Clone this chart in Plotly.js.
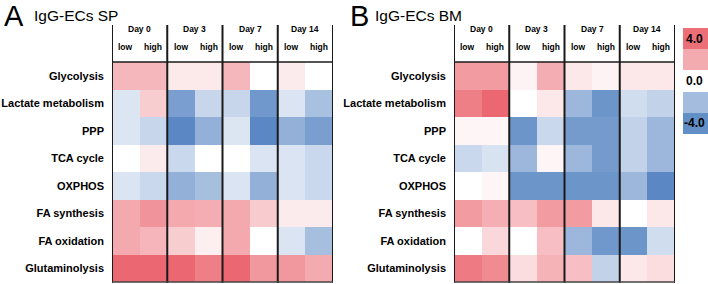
<!DOCTYPE html>
<html>
<head>
<meta charset="utf-8">
<script src="https://cdn.plot.ly/plotly-3.0.1.min.js"></script>
<style>html,body{margin:0;padding:0;background:#fff;}#chart{width:708px;height:284px;}</style>
</head>
<body>
<div id="chart"></div>
<script>
// ---- data ----
var pathways = ["Glycolysis", "Lactate metabolism", "PPP", "TCA cycle", "OXPHOS", "FA synthesis", "FA oxidation", "Glutaminolysis"];
var days = ["Day 0", "Day 3", "Day 7", "Day 14"];
var levels = ["low", "high"];
var panelTitles = ["IgG-ECs SP", "IgG-ECs BM"];
var panelLetters = ["A", "B"];

// columns: D0 low, D0 high, D3 low, D3 high, D7 low, D7 high, D14 low, D14 high
var valuesSP = [
  [1.8, 1.8, 0.55, 0.55, 1.8, 0.0, 0.5, 0.0],
  [-0.8, 1.25, -3.1, -1.3, -1.3, -3.3, -0.85, -2.0],
  [-0.8, -1.3, -3.8, -2.5, -0.8, -3.8, -2.5, -3.1],
  [0.0, 0.5, -1.25, 0.0, 0.0, -0.85, -0.85, -1.25],
  [-0.85, -1.25, -2.5, -2.05, -0.85, -2.5, -0.85, -1.25],
  [2.15, 2.7, 2.15, 2.05, 2.15, 1.3, 0.5, 0.5],
  [2.15, 1.85, 1.25, 0.4, 2.15, 0.0, -0.85, -2.05],
  [3.8, 3.8, 3.8, 3.2, 3.8, 2.6, 2.6, 2.1]
];
var valuesBM = [
  [2.5, 2.5, 0.3, 2.05, 0.6, 0.3, 0.6, 0.6],
  [3.2, 3.8, 0.0, 0.6, -2.3, -3.4, -1.1, -1.4],
  [0.25, 0.25, -3.4, -1.25, -3.2, -3.2, -1.4, -2.3],
  [-1.25, -0.9, -2.3, 0.25, -2.3, -3.2, -1.4, -2.3],
  [0.0, 0.25, -3.4, -3.4, -3.4, -3.4, -2.3, -3.8],
  [2.5, 2.0, 1.6, 2.5, 2.5, 0.6, 0.0, 0.6],
  [0.0, 1.0, 0.0, 1.6, -2.3, -3.3, -3.4, -1.1],
  [3.3, 2.9, 0.85, 1.9, 1.6, -1.4, 0.6, 0.85]
];
var legendValues = [3.6, 2.1, 0.0, -2.1, -3.6];
var legendLabels = ["4.0", "", "0.0", "", "-4.0"];

// ---- styling ----
var W = 708, H = 284;
var colorscale = [[0, "#5282C1"], [0.5, "#FFFFFF"], [1, "#EA5F69"]];
var FONT = "Liberation Sans, Arial, Helvetica, sans-serif";
function px(x) { return x / W; }
function py(y) { return (H - y) / H; }

var nCols = days.length * levels.length;
var colIdx = [];
for (var i = 0; i < nCols; i++) colIdx.push(i);

var panels = [
  {z: valuesSP, xa: "x", ya: "y", left: 112, right: 333, letterX: 2, titleX: 32},
  {z: valuesBM, xa: "x2", ya: "y2", left: 454, right: 675, letterX: 348, titleX: 373}
];
var hmTop = 62, hmBottom = 282, headTop = 25;

var traces = [], shapes = [], annotations = [];
var layout = {
  width: W, height: H,
  margin: {l: 0, r: 0, t: 0, b: 0},
  paper_bgcolor: "#fff", plot_bgcolor: "#fff",
  font: {family: FONT, color: "#000"},
  showlegend: false
};

panels.forEach(function (p, k) {
  var sfx = k === 0 ? "" : "2";
  traces.push({
    type: "heatmap", z: p.z, x: colIdx, y: pathways,
    xaxis: p.xa, yaxis: p.ya,
    colorscale: colorscale, zmin: -4, zmax: 4, showscale: false,
    xgap: 0, ygap: 0, hoverinfo: "skip"
  });
  layout["xaxis" + sfx] = {
    domain: [px(p.left), px(p.right)], range: [-0.5, nCols - 0.5],
    anchor: p.ya, showticklabels: false, showgrid: false, zeroline: false,
    ticks: "", showline: false, fixedrange: true
  };
  layout["yaxis" + sfx] = {
    domain: [py(hmBottom), py(hmTop)], anchor: p.xa,
    autorange: "reversed", type: "category",
    showgrid: false, zeroline: false, showline: false, ticks: "",
    ticklabelstandoff: 7,
    tickfont: {family: FONT, size: 11, weight: "bold", color: "#000"},
    fixedrange: true
  };
  // vertical lines: panel edges and day separators
  for (var d = 0; d <= days.length; d++) {
    var xv = d * levels.length - 0.5;
    shapes.push({type: "line", xref: p.xa, yref: "paper",
      x0: xv, x1: xv, y0: py(hmBottom + 1), y1: py(headTop),
      line: {color: "#1a1a1a", width: 2}});
  }
  // header bottom line and bottom border
  shapes.push({type: "line", xref: p.xa, yref: "paper",
    x0: -0.5, x1: nCols - 0.5, y0: py(hmTop), y1: py(hmTop),
    line: {color: "#1a1a1a", width: 1.5}});
  shapes.push({type: "line", xref: p.xa, yref: "paper",
    x0: -0.5, x1: nCols - 0.5, y0: py(hmBottom), y1: py(hmBottom),
    line: {color: "#444", width: 1.5}});
  // day labels
  days.forEach(function (dname, d) {
    annotations.push({xref: p.xa, yref: "paper", x: d * levels.length + 0.5, y: py(29),
      text: dname, showarrow: false, xanchor: "center", yanchor: "middle",
      font: {family: FONT, size: 8.5, weight: "bold", color: "#000"}});
  });
  // low/high labels
  colIdx.forEach(function (c) {
    annotations.push({xref: p.xa, yref: "paper", x: c, y: py(47),
      text: levels[c % levels.length], showarrow: false, xanchor: "center", yanchor: "middle",
      font: {family: FONT, size: 8.5, weight: "bold", color: "#000"}});
  });
  // panel letter + title
  annotations.push({xref: "paper", yref: "paper", x: px(p.letterX), y: py(16),
    text: panelLetters[k], showarrow: false, xanchor: "left", yanchor: "middle",
    font: {family: FONT, size: 29, color: "#000"}});
  annotations.push({xref: "paper", yref: "paper", x: px(p.titleX), y: py(15),
    text: panelTitles[k], showarrow: false, xanchor: "left", yanchor: "middle",
    font: {family: FONT, size: 15.5, color: "#000"}});
});

// discrete colour key
traces.push({
  type: "heatmap", z: legendValues.map(function (v) { return [v]; }),
  x: [0], y: legendValues.map(function (v, i) { return i; }),
  xaxis: "x3", yaxis: "y3",
  colorscale: colorscale, zmin: -4, zmax: 4, showscale: false, hoverinfo: "skip"
});
layout.xaxis3 = {domain: [px(683), 1], range: [-0.5, 0.5], anchor: "y3",
  visible: false, fixedrange: true};
layout.yaxis3 = {domain: [py(134), py(28)], range: [legendValues.length - 0.5, -0.5], anchor: "x3",
  visible: false, fixedrange: true};
legendLabels.forEach(function (lab, i) {
  if (!lab) return;
  annotations.push({xref: "paper", yref: "y3", x: px(lab.charAt(0) === "-" ? 682 : 684), y: i,
    text: lab, showarrow: false, xanchor: "left", yanchor: "middle",
    font: {family: FONT, size: 12, weight: "bold", color: "#000"}});
});

layout.shapes = shapes;
layout.annotations = annotations;

Plotly.newPlot("chart", traces, layout, {displayModeBar: false, staticPlot: true});
</script>
</body>
</html>
